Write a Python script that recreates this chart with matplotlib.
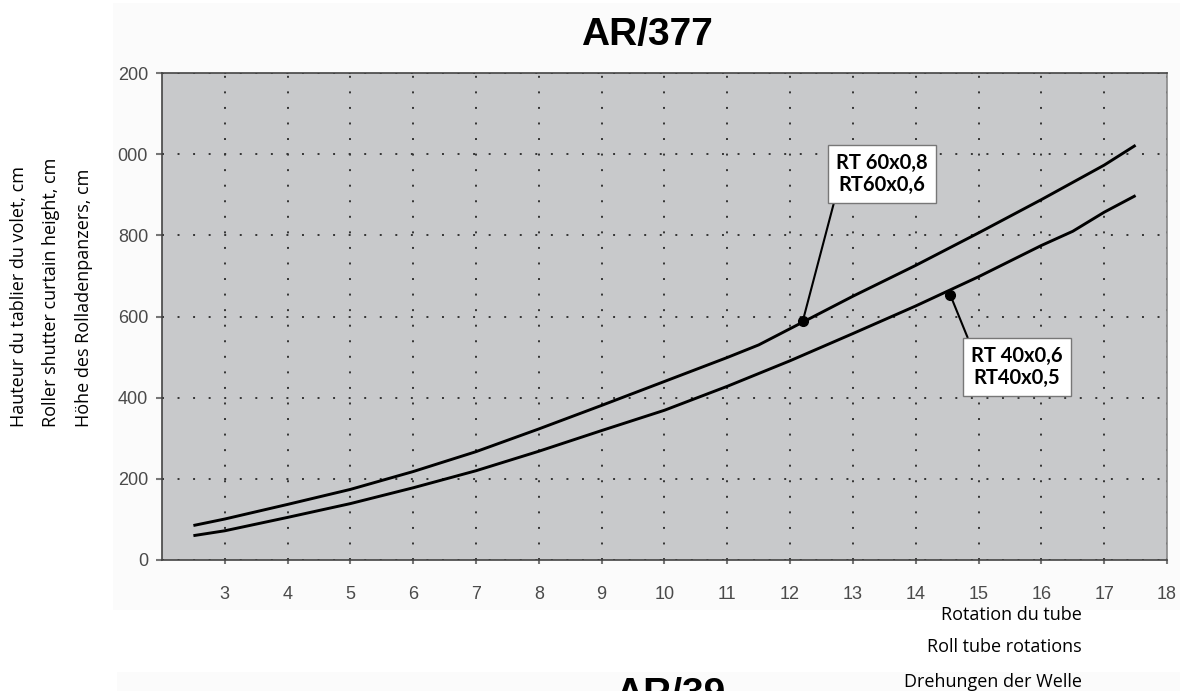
import matplotlib
matplotlib.use("Agg")
import matplotlib.pyplot as plt
from matplotlib.patches import Rectangle

# ---- data ----
title = "AR/377"
x_rt60 = [2.5, 3, 4, 5, 6, 7, 8, 9, 10, 11, 11.5, 12, 13, 14, 15, 16, 17, 17.5]
y_rt60 = [85, 101, 137, 174, 218, 267, 323, 381, 440, 499, 530, 570, 650, 726, 806, 888, 973, 1022]
x_rt40 = [2.5, 3, 4, 5, 6, 7, 8, 9, 10, 11, 12, 13, 14, 15, 16, 16.5, 17, 17.5]
y_rt40 = [60, 72, 105, 139, 178, 220, 268, 319, 369, 428, 491, 558, 626, 698, 775, 810, 857, 898]
dot_rt60 = (12.2, 588)
dot_rt40 = (14.55, 653)
label_rt60 = "RT 60x0,8\nRT60x0,6"
label_rt40 = "RT 40x0,6\nRT40x0,5"
x_ticks = list(range(3, 19))
y_ticks = [0, 200, 400, 600, 800, 1000, 1200]
y_tick_labels = ["0", "200", "400", "600", "800", "000", "200"]
y_label_lines = ["Hauteur du tablier du volet, cm",
                 "Roller shutter curtain height, cm",
                 "Höhe des Rolladenpanzers, cm"]
x_label_lines = ["Rotation du tube", "Roll tube rotations", "Drehungen der Welle"]
next_title = "AR/39"

W, H = 1180, 691
fig = plt.figure(figsize=(W / 100, H / 100), dpi=100)
fig.patch.set_facecolor("white")

# faint background panels of the source scan
fig.add_artist(Rectangle((113 / W, (H - 610) / H), (W - 113) / W, 607 / H,
                         transform=fig.transFigure, facecolor="#fbfbfb",
                         edgecolor="none", zorder=0))
fig.add_artist(Rectangle((117 / W, 0), (W - 117) / W, 19 / H,
                         transform=fig.transFigure, facecolor="#fbfbfb",
                         edgecolor="none", zorder=0))

left, right, top, bottom = 162, 1167, 73, 560
ax = fig.add_axes([left / W, (H - bottom) / H, (right - left) / W, (bottom - top) / H])
ax.set_facecolor("#c8c9cb")
ax.set_xlim(2, 18)
ax.set_ylim(0, 1200)

ax.set_xticks(x_ticks)
ax.set_xticklabels([str(t) for t in x_ticks])
ax.set_yticks(y_ticks)
ax.set_yticklabels(y_tick_labels)

for lbl in ax.get_xticklabels() + ax.get_yticklabels():
    lbl.set_family("Liberation Sans")
    lbl.set_color("#4a4a4a")
    lbl.set_fontsize(13)

ax.tick_params(axis="x", direction="out", length=3, width=1.5, color="#777777", pad=16)
ax.tick_params(axis="y", direction="out", length=4, width=1.5, color="#777777", pad=6)

ax.grid(True, color="#333333", linestyle=(0, (1, 7)), linewidth=1.4)
ax.set_axisbelow(True)

for side in ["left", "bottom", "top"]:
    ax.spines[side].set_color("#444444")
    ax.spines[side].set_linewidth(1.2)
ax.spines["right"].set_color("#888888")
ax.spines["right"].set_linewidth(1.2)

ax.plot(x_rt60, y_rt60, color="black", linewidth=2.1, solid_capstyle="butt", zorder=3)
ax.plot(x_rt40, y_rt40, color="black", linewidth=2.1, solid_capstyle="butt", zorder=3)

ax.plot([dot_rt60[0]], [dot_rt60[1]], "o", color="black", markersize=7, zorder=4)
ax.plot([dot_rt40[0]], [dot_rt40[1]], "o", color="black", markersize=7, zorder=4)

box = dict(boxstyle="square,pad=0.4", facecolor="white", edgecolor="#777777", linewidth=1.0)
ax.annotate(label_rt60, xy=dot_rt60, xytext=(13.46, 951), textcoords="data",
            ha="center", va="center", fontsize=14.5, family="Lato", fontweight="bold",
            linespacing=1.1, bbox=box, zorder=5,
            arrowprops=dict(arrowstyle="-", color="black", linewidth=1.5,
                            relpos=(0, 0), shrinkA=0, shrinkB=0))
ax.annotate(label_rt40, xy=dot_rt40, xytext=(15.61, 476), textcoords="data",
            ha="center", va="center", fontsize=14.5, family="Lato", fontweight="bold",
            linespacing=1.1, bbox=box, zorder=5,
            arrowprops=dict(arrowstyle="-", color="black", linewidth=1.5,
                            relpos=(0, 1), shrinkA=0, shrinkB=0))

# title
fig.text(647 / W, (H - 35) / H, title, ha="center", va="center",
         fontsize=28, fontweight="bold", family="Liberation Sans", color="black")

# y label lines
for xpix, line in zip([19, 51, 84], y_label_lines):
    fig.text(xpix / W, (H - 427) / H, line, rotation=90, rotation_mode="anchor",
             ha="left", va="center", fontsize=13, family="Open Sans", color="black")

# x label lines
for ypix, line in zip([615, 647, 682], x_label_lines):
    fig.text(1082 / W, (H - ypix) / H, line, ha="right", va="center",
             fontsize=13, family="Open Sans", color="black")

# next chart title, cut off at the bottom (as in the source)
fig.text(615 / W, (H - 705) / H, next_title, ha="left", va="baseline",
         fontsize=28, fontweight="bold", family="Liberation Sans", color="black")

fig.savefig("out.png", dpi=100)
